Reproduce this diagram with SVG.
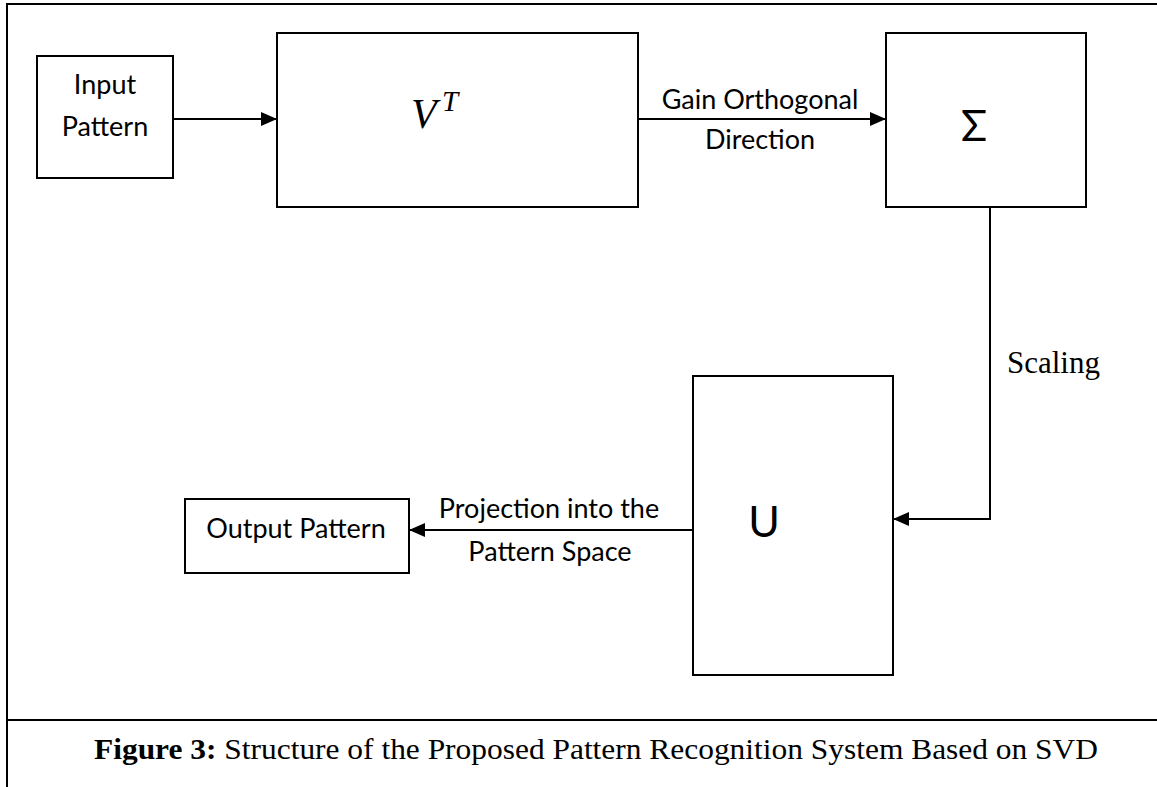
<svg xmlns="http://www.w3.org/2000/svg" width="1157" height="787" viewBox="0 0 1157 787">
<style>
.box{fill:#fff;stroke:#000;stroke-width:2}
.frame{fill:none;stroke:#000;stroke-width:2}
.con{fill:none;stroke:#000;stroke-width:2}
.lbl{font-family:Lato,"Open Sans","Liberation Sans",sans-serif;font-size:27px;fill:#000;text-anchor:middle}
.sym{font-family:Lato,"Open Sans","Liberation Sans",sans-serif;font-size:43px;fill:#000;text-anchor:middle}
.math{font-family:"Liberation Serif","DejaVu Serif",serif;font-style:italic;fill:#000}
.serif{font-family:"Liberation Serif","Times New Roman",serif;fill:#000}
</style>
<defs>
<marker id="arr" viewBox="0 0 16 14" refX="16" refY="7" markerWidth="16" markerHeight="14" markerUnits="userSpaceOnUse" orient="auto">
<path d="M0,0 L16,7 L0,14 Z" fill="#000"/>
</marker>
</defs>
<rect width="1157" height="787" fill="#fff"/>
<g id="frame">
<path class="frame" d="M7,787 V4 H1157"/>
<line class="frame" x1="7" y1="720" x2="1157" y2="720"/>
</g>
<g id="connectors">
<line class="con" x1="173" y1="119" x2="277" y2="119" marker-end="url(#arr)"/>
<line class="con" x1="638" y1="119" x2="886" y2="119" marker-end="url(#arr)"/>
<polyline class="con" points="990,207 990,519 893,519" marker-end="url(#arr)"/>
<line class="con" x1="693" y1="530" x2="409" y2="530" marker-end="url(#arr)"/>
<text class="lbl" x="760" y="109">Gain Orthogonal</text>
<text class="lbl" x="760" y="149">Direction</text>
<text class="serif" x="1007" y="373" font-size="31">Scaling</text>
<text class="lbl" x="549" y="518">Projection into the</text>
<text class="lbl" x="550" y="561">Pattern Space</text>
</g>
<g id="input">
<rect class="box" x="37" y="56" width="136" height="122"/>
<text class="lbl" x="105" y="94">Input</text>
<text class="lbl" x="105" y="136">Pattern</text>
</g>
<g id="vt">
<rect class="box" x="277" y="33" width="361" height="174"/>
<text class="math" x="411" y="128" font-size="42">V<tspan x="442" y="111" font-size="29">T</tspan></text>
</g>
<g id="sigma">
<rect class="box" x="886" y="33" width="200" height="174"/>
<text class="sym" x="974" y="141">Σ</text>
</g>
<g id="u">
<rect class="box" x="693" y="376" width="200" height="299"/>
<text class="sym" x="764" y="537">U</text>
</g>
<g id="output">
<rect class="box" x="185" y="499" width="224" height="74"/>
<text class="lbl" x="296" y="538">Output Pattern</text>
</g>
<g id="caption">
<text class="serif" x="94" y="759" font-size="29" textLength="1004" lengthAdjust="spacingAndGlyphs"><tspan font-weight="bold">Figure 3:</tspan> Structure of the Proposed Pattern Recognition System Based on SVD</text>
</g>
</svg>
